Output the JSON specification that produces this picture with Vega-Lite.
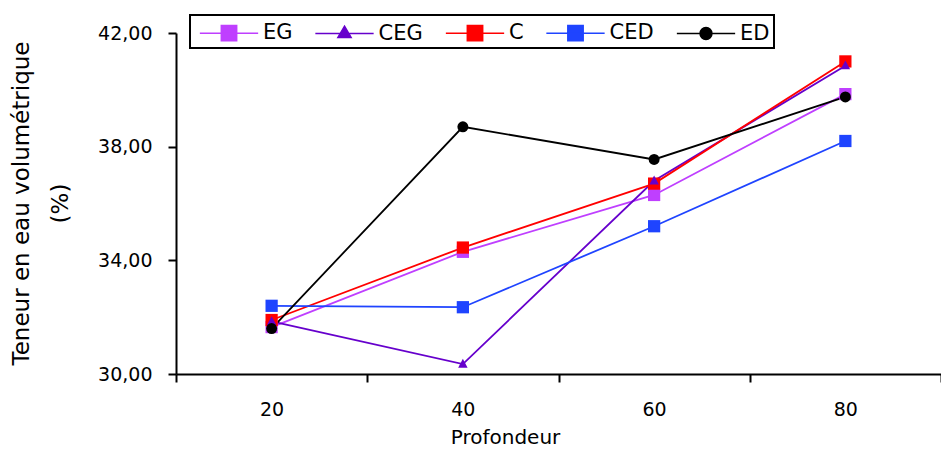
{
  "$schema": "https://vega.github.io/schema/vega-lite/v6.json",
  "width": 765,
  "height": 341,
  "autosize": {"type": "none"},
  "padding": {"left": 176, "top": 33, "right": 0, "bottom": 76},
  "background": "white",
  "config": {
    "view": {"stroke": null},
    "font": "DejaVu Sans",
    "axis": {
      "domainColor": "black",
      "domainWidth": 2,
      "tickColor": "black",
      "tickWidth": 2,
      "tickSize": 8,
      "grid": false,
      "labelFont": "DejaVu Sans",
      "labelFontSize": 19,
      "labelColor": "black",
      "titleFont": "DejaVu Sans",
      "titleFontSize": 20,
      "titleFontWeight": "normal",
      "titleColor": "black"
    },
    "legend": {
      "orient": "none",
      "legendX": 14,
      "legendY": -18,
      "direction": "horizontal",
      "strokeColor": "black",
      "strokeWidth": 2,
      "fillColor": "white",
      "padding": 4,
      "symbolSize": 702,
      "symbolOpacity": 1,
      "symbolStrokeWidth": 1.5,
      "symbolOffset": 21,
      "labelOffset": 20,
      "columnPadding": 16.5,
      "labelFont": "DejaVu Sans",
      "labelFontSize": 21,
      "labelColor": "black"
    }
  },
  "data": {
    "values": [
      {"series": "EG", "depth": "20", "value": 31.65},
      {"series": "EG", "depth": "40", "value": 34.3},
      {"series": "EG", "depth": "60", "value": 36.3},
      {"series": "EG", "depth": "80", "value": 39.85},
      {"series": "CEG", "depth": "20", "value": 31.85},
      {"series": "CEG", "depth": "40", "value": 30.35},
      {"series": "CEG", "depth": "60", "value": 36.8},
      {"series": "CEG", "depth": "80", "value": 40.85},
      {"series": "C", "depth": "20", "value": 31.9},
      {"series": "C", "depth": "40", "value": 34.45},
      {"series": "C", "depth": "60", "value": 36.7},
      {"series": "C", "depth": "80", "value": 41.0},
      {"series": "CED", "depth": "20", "value": 32.4},
      {"series": "CED", "depth": "40", "value": 32.35},
      {"series": "CED", "depth": "60", "value": 35.2},
      {"series": "CED", "depth": "80", "value": 38.2},
      {"series": "ED", "depth": "20", "value": 31.6},
      {"series": "ED", "depth": "40", "value": 38.7},
      {"series": "ED", "depth": "60", "value": 37.55},
      {"series": "ED", "depth": "80", "value": 39.75}
    ]
  },
  "encoding": {
    "x": {
      "field": "depth",
      "type": "ordinal",
      "bandPosition": 0.5,
      "scale": {"type": "band", "paddingInner": 0, "paddingOuter": 0},
      "axis": {
        "title": "Profondeur",
        "labelAngle": 0,
        "tickBand": "extent",
        "labelPadding": 18,
        "titlePadding": 8,
        "titleX": 329,
        "titleAlign": "center",
        "titleAnchor": null
      }
    },
    "y": {
      "field": "value",
      "type": "quantitative",
      "scale": {"domain": [30, 42], "zero": false, "nice": false},
      "axis": {
        "values": [30, 34, 38, 42],
        "labelExpr": "replace(format(datum.value, '.2f'), '.', ',')",
        "labelPadding": 16,
        "title": ["Teneur en eau volumétrique", "(%)"],
        "titleFontSize": 23,
        "titleLineHeight": 39,
        "titleAngle": -90,
        "titleAlign": "center",
        "titleBaseline": "middle",
        "titleX": -155,
        "titleY": 170
      }
    },
    "color": {
      "field": "series",
      "type": "nominal",
      "scale": {
        "domain": ["EG", "CEG", "C", "CED", "ED"],
        "range": ["#BF3FFF", "#6600CC", "#FF0000", "#1F44FF", "#000000"]
      },
      "legend": {
        "title": null,
        "encode": {
          "symbols": {
            "update": {
              "stroke": {"scale": "color", "field": "value"},
              "fill": {"scale": "color", "field": "value"},
              "opacity": {"value": 1}
            }
          }
        }
      }
    }
  },
  "layer": [
    {
      "mark": {"type": "line", "strokeWidth": 1.8}
    },
    {
      "transform": [{"filter": "datum.series === 'EG' || datum.series === 'C' || datum.series === 'CED'"}],
      "mark": {"type": "point", "shape": "square", "filled": true, "opacity": 1, "size": 150}
    },
    {
      "transform": [{"filter": "datum.series === 'CEG'"}],
      "mark": {"type": "point", "shape": "M0,-1L0.9,0.7H-0.9Z", "filled": true, "opacity": 1, "size": 110}
    },
    {
      "transform": [{"filter": "datum.series === 'ED'"}],
      "mark": {"type": "point", "shape": "circle", "filled": true, "opacity": 1, "size": 120}
    },
    {
      "mark": {"type": "point", "filled": true, "opacity": 0},
      "encoding": {
        "shape": {
          "field": "series",
          "type": "nominal",
          "scale": {
            "domain": ["EG", "CEG", "C", "CED", "ED"],
            "range": [
              "M-2.2,0H2.2M-0.58,-0.58H0.58V0.58H-0.58Z",
              "M-2.2,0H2.2M0,-0.55L0.5,0.3H-0.5Z",
              "M-2.2,0H2.2M-0.58,-0.58H0.58V0.58H-0.58Z",
              "M-2.2,0H2.2M-0.58,-0.58H0.58V0.58H-0.58Z",
              "M-2.2,0H2.2M-0.45,0A0.45,0.45 0 1,0 0.45,0A0.45,0.45 0 1,0 -0.45,0Z"
            ]
          },
          "legend": {
            "title": null,
            "encode": {
              "symbols": {
                "update": {
                  "stroke": {"scale": "color", "field": "value"},
                  "fill": {"scale": "color", "field": "value"},
                  "opacity": {"value": 1}
                }
              }
            }
          }
        }
      }
    }
  ]
}
